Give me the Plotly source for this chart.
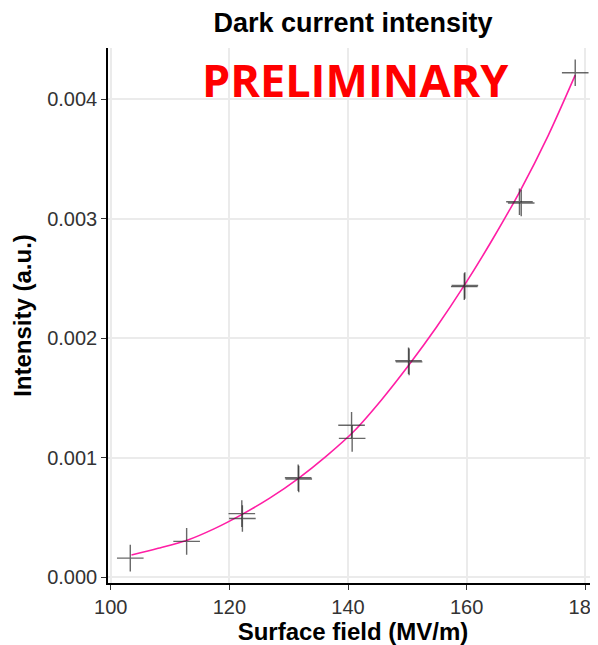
import plotly.graph_objects as go

# Measured points (surface field in MV/m, intensity in a.u.)
field = [103.3, 112.8, 122.1, 122.2, 131.6, 131.7, 140.6, 140.7, 150.2, 150.3, 159.6, 159.7, 168.9, 169.2, 178.3]
intensity = [0.000158, 0.000298, 0.000530, 0.000490, 0.000830, 0.000820, 0.001270, 0.001160,
             0.001810, 0.001800, 0.002430, 0.002440, 0.003140, 0.003130, 0.004220]

# Fitted curve
fit_field = [103.5, 108.0, 113.0, 117.5, 122.0, 126.8, 131.6, 136.3, 141.0, 145.6, 150.2, 154.9, 159.6, 164.3, 169.0, 173.7, 178.3]
fit_intensity = [0.000184, 0.000240, 0.000310, 0.000405, 0.000520, 0.000660, 0.000824, 0.001010, 0.001220,
                 0.001480, 0.001770, 0.002090, 0.002440, 0.002820, 0.003230, 0.003690, 0.004200]

x_ticks = [100, 120, 140, 160, 180]
y_ticks = [0.000, 0.001, 0.002, 0.003, 0.004]
y_tick_labels = ["0.000", "0.001", "0.002", "0.003", "0.004"]

fig = go.Figure()
fig.add_trace(go.Scatter(
    x=fit_field, y=fit_intensity, mode="lines",
    line=dict(color="#ff1ea5", width=1.6, shape="spline", smoothing=0.8),
    hoverinfo="skip", showlegend=False))
fig.add_trace(go.Scatter(
    x=field, y=intensity, mode="markers",
    marker=dict(symbol="cross-thin", size=19,
                line=dict(color="rgba(40,40,40,0.7)", width=1.4)),
    showlegend=False))

axis_common = dict(
    showline=True, linecolor="black", linewidth=1.5,
    ticks="outside", ticklen=5, tickwidth=1.2, tickcolor="#333333",
    showgrid=True, gridcolor="#ebebeb", gridwidth=1.5,
    zeroline=False, automargin=False, ticklabeloverflow="allow",
    tickfont=dict(family="Liberation Sans, Arial", size=20, color="#333333"),
)

# The page body adds an 8 px offset, so the figure is 8 px smaller than the window.
fig.update_layout(
    width=590, height=637,
    margin=dict(l=100, r=0, t=40, b=62, autoexpand=False),
    paper_bgcolor="white", plot_bgcolor="white",
    title=dict(text="<b>Dark current intensity</b>", x=0.5, xref="paper",
               y=1 - 15 / 637, yref="container", yanchor="middle", xanchor="center",
               automargin=False,
               font=dict(family="Liberation Sans, Arial", size=27, color="black")),
    xaxis=dict(range=[99.545, 182.14], tickvals=x_ticks,
               title=dict(text="<b>Surface field (MV/m)</b>", standoff=9,
                          font=dict(family="Liberation Sans, Arial", size=24, color="black")),
               **axis_common),
    yaxis=dict(range=[-0.0000502, 0.004427], tickvals=y_ticks, ticktext=y_tick_labels,
               title=dict(text="<b>Intensity (a.u.)</b>", standoff=9,
                          font=dict(family="Liberation Sans, Arial", size=24, color="black")),
               **axis_common),
    annotations=[dict(text="<b>PRELIMINARY</b>", x=0.505, y=0.941, xref="paper", yref="paper",
                      xanchor="center", yanchor="middle", showarrow=False,
                      font=dict(family="Open Sans", size=45, color="#ff0000"))],
)

fig.write_html("out.html")
